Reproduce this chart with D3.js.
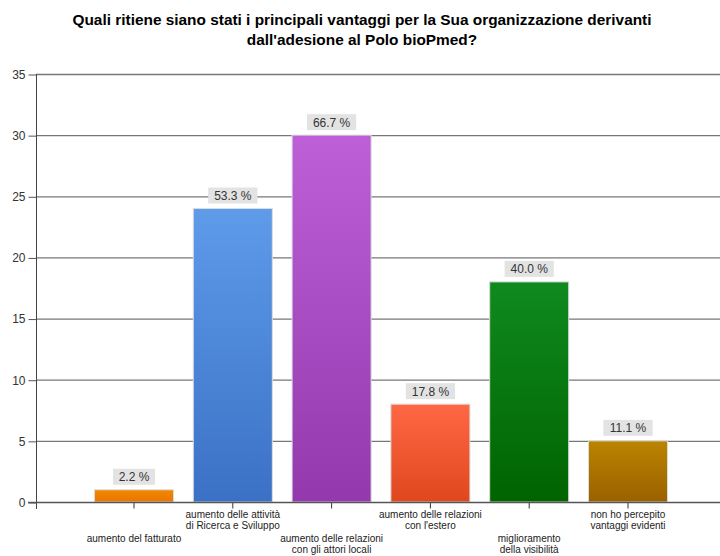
<!DOCTYPE html>
<html lang="it">
  <head>
    <meta charset="UTF-8" />
    <title>Polo bioPmed</title>
    <script src="https://cdn.jsdelivr.net/npm/d3@7/dist/d3.min.js"></script>
    <style>
      body { margin: 0; background: #fff; }
      text { font-family: "Liberation Sans", Arial, sans-serif; }
    </style>
  </head>
  <body>
    <div id="wrapper"></div>
    <script>
      // data
      const categories = [
        ["aumento del fatturato"],
        ["aumento delle attività", "di Ricerca e Sviluppo"],
        ["aumento delle relazioni", "con gli attori locali"],
        ["aumento delle relazioni", "con l'estero"],
        ["miglioramento", "della visibilità"],
        ["non ho percepito", "vantaggi evidenti"],
      ];
      const counts = [1, 24, 30, 8, 18, 5];
      const percentLabels = ["2.2 %", "53.3 %", "66.7 %", "17.8 %", "40.0 %", "11.1 %"];
      const yTicks = [0, 5, 10, 15, 20, 25, 30, 35];
      const barColors = [
        ["#f38800", "#e87600"],
        ["#5e9be9", "#3b71c5"],
        ["#bd60d8", "#9338ad"],
        ["#ff6845", "#df471d"],
        ["#108a1f", "#006300"],
        ["#bb8400", "#9a6000"],
      ];
      const title = [
        "Quali ritiene siano stati i principali vantaggi per la Sua organizzazione derivanti",
        "dall'adesione al Polo bioPmed?",
      ];

      const dimensions = {
        width: 720,
        height: 556,
        margin: { top: 74, right: 0, bottom: 54, left: 36 },
      };

      const svg = d3
        .select("#wrapper")
        .append("svg")
        .attr("width", dimensions.width)
        .attr("height", dimensions.height);

      const keys = categories.map((d, i) => "c" + i);

      const xScale = d3
        .scaleBand()
        .domain(keys)
        .range([84.6, 677.4])
        .paddingInner(0.2)
        .paddingOuter(0.1);

      const yScale = d3
        .scaleLinear()
        .domain([0, 35])
        .range([502, 74]);

      // title
      svg
        .append("g")
        .selectAll("text")
        .data(title)
        .join("text")
        .attr("x", 362)
        .attr("y", (d, i) => 25 + i * 20)
        .attr("text-anchor", "middle")
        .attr("font-size", 15.4)
        .attr("font-weight", "bold")
        .attr("fill", "#000")
        .text((d) => d);

      // gridlines
      svg
        .append("g")
        .selectAll("line")
        .data(yTicks.slice(1))
        .join("line")
        .attr("x1", 36)
        .attr("x2", 720)
        .attr("y1", (d) => yScale(d) + 0.5)
        .attr("y2", (d) => yScale(d) + 0.5)
        .attr("stroke", "#777")
        .attr("stroke-width", 1.3);

      // y axis
      const yAxis = svg
        .append("g")
        .attr("transform", "translate(36.5,0.5)")
        .call(d3.axisLeft(yScale).tickValues(yTicks).tickSize(8).tickPadding(3));
      yAxis.select(".domain").remove();
      yAxis.selectAll(".tick line").attr("stroke", "#555");
      yAxis
        .selectAll(".tick text")
        .attr("font-size", 12)
        .attr("fill", "#333")
        .style("font-family", "'Liberation Sans', Arial, sans-serif");
      svg
        .append("line")
        .attr("x1", 36.5)
        .attr("x2", 36.5)
        .attr("y1", 74)
        .attr("y2", 509)
        .attr("stroke", "#444");

      // gradients
      const defs = svg.append("defs");
      barColors.forEach((c, i) => {
        const g = defs
          .append("linearGradient")
          .attr("id", "grad" + i)
          .attr("x1", 0)
          .attr("x2", 0)
          .attr("y1", 0)
          .attr("y2", 1);
        g.append("stop").attr("offset", "0%").attr("stop-color", c[0]);
        g.append("stop").attr("offset", "100%").attr("stop-color", c[1]);
      });

      // bars
      svg
        .append("g")
        .selectAll("rect")
        .data(counts)
        .join("rect")
        .attr("x", (d, i) => xScale(keys[i]))
        .attr("y", (d) => yScale(d))
        .attr("width", xScale.bandwidth())
        .attr("height", (d) => yScale(0) - yScale(d))
        .attr("fill", (d, i) => `url(#grad${i})`)
        .attr("stroke", "#dcdcdc")
        .attr("stroke-width", 1);

      // x axis
      const xAxis = svg
        .append("g")
        .attr("transform", "translate(0,502.5)")
        .call(d3.axisBottom(xScale).tickSize(6).tickFormat(""));
      xAxis.select(".domain").remove();
      xAxis.selectAll(".tick line").attr("stroke", "#333");
      svg
        .append("line")
        .attr("x1", 28)
        .attr("x2", 720)
        .attr("y1", 502.5)
        .attr("y2", 502.5)
        .attr("stroke", "#555")
        .attr("stroke-width", 1.3);

      // category labels, staggered in two rows
      const catLabels = svg
        .append("g")
        .selectAll("text")
        .data(categories)
        .join("text")
        .attr("text-anchor", "middle")
        .attr("font-size", 10)
        .attr("fill", "#222")
        .attr("transform", (d, i) => {
          const x = xScale(keys[i]) + xScale.bandwidth() / 2;
          const y = i % 2 === 1 ? 518 : 542;
          return `translate(${x},${y})`;
        });
      catLabels
        .selectAll("tspan")
        .data((d) => d)
        .join("tspan")
        .attr("x", 0)
        .attr("dy", (d, j) => (j === 0 ? 0 : 10.5))
        .text((d) => d);

      // value labels
      const valueLabels = svg
        .append("g")
        .selectAll("g")
        .data(counts)
        .join("g")
        .attr(
          "transform",
          (d, i) => `translate(${xScale(keys[i]) + xScale.bandwidth() / 2},${yScale(d) - 4})`
        );
      valueLabels
        .append("rect")
        .attr("x", (d, i) => -(percentLabels[i].length * 3.6 + 3))
        .attr("y", -17)
        .attr("width", (d, i) => percentLabels[i].length * 7.2 + 6)
        .attr("height", 16)
        .attr("fill", "#e3e3e3");
      valueLabels
        .append("text")
        .attr("text-anchor", "middle")
        .attr("y", -4.5)
        .attr("font-size", 12)
        .attr("fill", "#333")
        .text((d, i) => percentLabels[i]);
    </script>
  </body>
</html>
